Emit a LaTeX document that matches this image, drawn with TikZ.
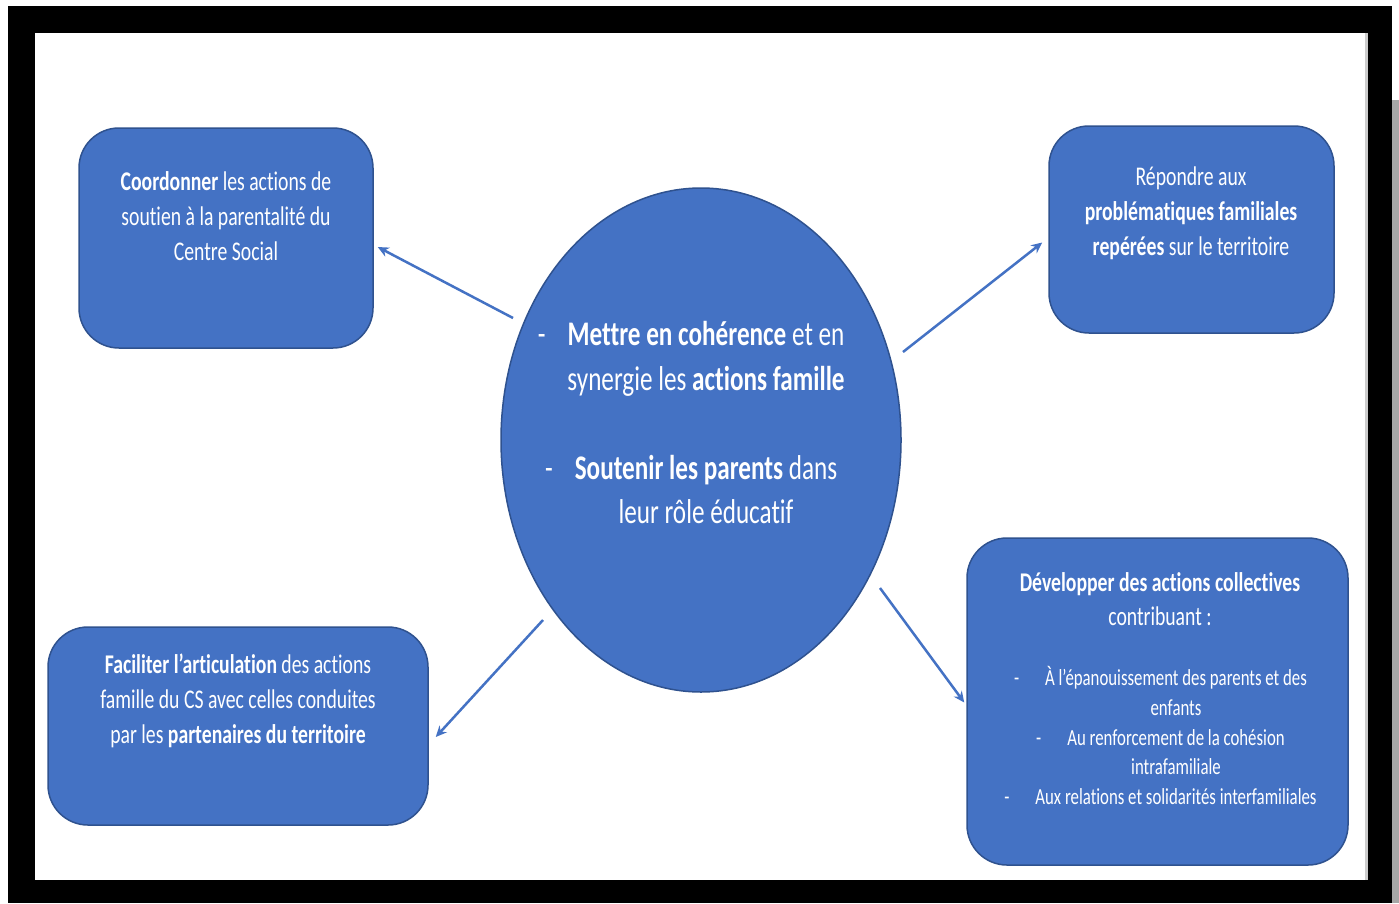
\documentclass[tikz,border=0pt]{standalone}
\usepackage{fontspec}
\setmainfont{Carlito}[FakeStretch=0.73, Ligatures=NoCommon]
\usepackage{xcolor}
\usepackage{tikz}
\usetikzlibrary{calc,arrows.meta,shapes.geometric}
\tikzset{>={Stealth[length=11pt,width=10pt]}}
\definecolor{officeblue}{HTML}{4472C4}
\definecolor{officeline}{HTML}{2F528F}
\newcommand{\dash}[1]{\llap{-\hspace{#1pt}}}

\begin{document}
\begin{tikzpicture}[x=1pt, y=-1pt,
    box/.style={draw=officeline, line width=1.5pt, fill=officeblue, rounded corners=40pt, inner sep=0pt},
    bubble/.style={ellipse, draw=officeline, line width=1.5pt, fill=officeblue, inner sep=0pt},
    txt/.style={text=white, align=center, inner sep=0pt, font=\fontsize{27}{35}\selectfont},
    link/.style={draw=officeblue, line width=2.5pt, ->}]
    \useasboundingbox (0,0) rectangle (1399,903);
    % frame
    \fill[white] (0,0) rectangle (1399,903);
    \fill[black!35] (1392,100) rectangle (1399,903);
    \fill[black] (8,6) rectangle (1392,903);
    \fill[white] (35,33) rectangle (1365,880);
    \fill[black!20] (1365,33) rectangle (1368,880);
    % shapes
    \node[bubble, minimum width=400, minimum height=504] (centre) at (701,440) {};
    \node[box, minimum width=294, minimum height=220] (coord) at (226,238) {};
    \node[box, minimum width=285, minimum height=207] (repond) at (1191.5,229.5) {};
    \node[box, minimum width=380, minimum height=198] (facil) at (238,726) {};
    \node[box, minimum width=381, minimum height=327] (devel) at (1157.5,701.5) {};
    % texts
    \node[txt, font=\fontsize{34.5}{44.5}\selectfont] (centreT) at (706,423)
      {\dash{22}\textbf{Mettre en cohérence} et en\\
       synergie les \textbf{actions famille}\\[44.5pt]
       \dash{22}\textbf{Soutenir les parents} dans\\
       leur rôle éducatif};
    \node[txt] (coordT) at (226,216)
      {\textbf{Coordonner} les actions de\\ soutien à la parentalité du\\ Centre Social};
    \node[txt] (repondT) at (1191,213)
      {Répondre aux\\ \textbf{problématiques familiales}\\ \textbf{repérées} sur le territoire};
    \node[txt] (facilT) at (238,701)
      {\textbf{Faciliter l’articulation} des actions\\ famille du CS avec celles conduites\\ par les \textbf{partenaires du territoire}};
    \node[txt, font=\fontsize{27}{34}\selectfont] (develT) at (1160,599)
      {\textbf{Développer des actions collectives}\\ contribuant :};
    \node[txt, font=\fontsize{23}{29.8}\selectfont] (develL) at (1176,735.5)
      {\dash{26}À l’épanouissement des parents et des\\ enfants\\
       \dash{26}Au renforcement de la cohésion\\ intrafamiliale\\
       \dash{26}Aux relations et solidarités interfamiliales};
    % arrows
    \coordinate (s1) at (513,318);
    \coordinate (s2) at (903,352);
    \coordinate (s3) at (543,620);
    \coordinate (s4) at (880,588);
    \draw[link] (s1) -- ([shift={(4,9)}]coord.east);
    \draw[link] (s2) -- ([shift={(-6,13)}]repond.west);
    \draw[link] (s3) -- ([shift={(7,11)}]facil.east);
    \draw[link] (s4) -- ([shift={(-2,1)}]devel.west);
\end{tikzpicture}
\end{document}
